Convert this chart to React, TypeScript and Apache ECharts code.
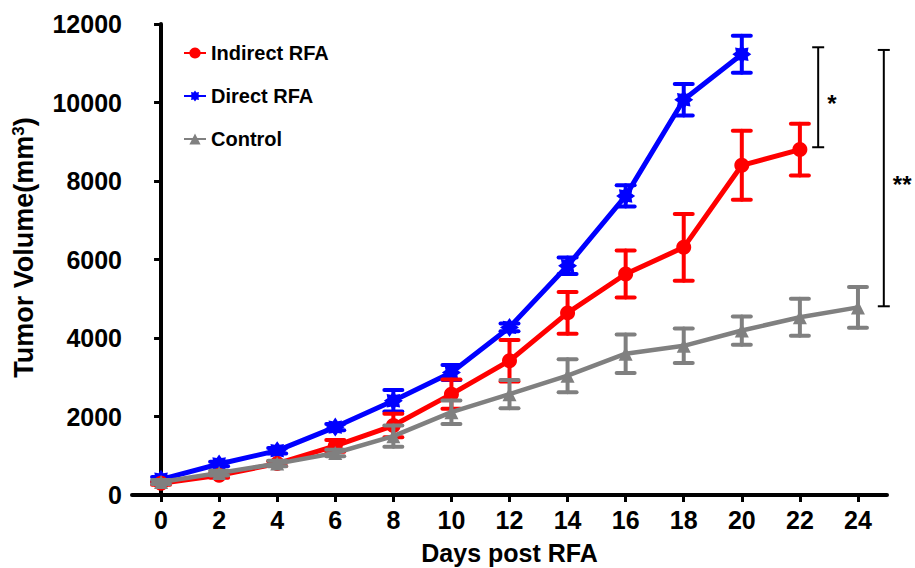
import React, { useEffect, useRef } from "react";
import * as echarts from "echarts";

const tickDays = [0, 2, 4, 6, 8, 10, 12, 14, 16, 18, 20, 22, 24];

const indirectDays = [0, 2, 4, 6, 8, 10, 12, 14, 16, 18, 20, 22];
const indirectMean = [300, 500, 800, 1250, 1770, 2570, 3420, 4640, 5630, 6310, 8400, 8800];
const indirectErr = [40, 60, 60, 150, 300, 370, 530, 530, 600, 850, 880, 660];

const directDays = [0, 2, 4, 6, 8, 10, 12, 14, 16, 18, 20];
const directMean = [400, 790, 1130, 1730, 2400, 3120, 4270, 5840, 7620, 10070, 11230];
const directErr = [60, 60, 70, 80, 275, 190, 100, 210, 270, 400, 470];

const controlDays = [0, 2, 4, 6, 8, 10, 12, 14, 16, 18, 20, 22, 24];
const controlMean = [330, 560, 800, 1070, 1500, 2110, 2570, 3040, 3600, 3800, 4190, 4530, 4780];
const controlErr = [50, 60, 70, 80, 270, 300, 360, 420, 490, 440, 360, 470, 520];

// significance brackets: [x (days), low, high], label
const bracketX = [22.63, 24.89];
const bracketLow = [8860, 4808];
const bracketHigh = [11407, 11339];
const bracketLabels = ["*", "**"];

const FONT = 'Arial, "Liberation Sans", sans-serif';

function asteriskPath(): string {
  const n = 16;
  const parts: string[] = [];
  for (let k = 0; k < n; k++) {
    const a = (k * Math.PI) / 8 - Math.PI / 2;
    const r = k % 2 === 0 ? 50 : 34;
    const x = (50 + r * Math.cos(a)).toFixed(2);
    const y = (50 + r * Math.sin(a)).toFixed(2);
    parts.push((k === 0 ? "M" : "L") + x + " " + y);
  }
  return "path://" + parts.join(" ") + " Z";
}

function errSeries(days: number[], mean: number[], err: number[], color: string, z: number) {
  return {
    type: "custom",
    z,
    silent: true,
    data: days.map((d, i) => [d, mean[i], err[i]]),
    renderItem: (params: any, api: any) => {
      const x = api.value(0);
      const m = api.value(1);
      const e = api.value(2);
      const top = api.coord([x, m + e]);
      const bot = api.coord([x, m - e]);
      const hw = 9;
      const style = { stroke: color, lineWidth: 4, lineCap: "round" };
      return {
        type: "group",
        children: [
          { type: "line", shape: { x1: top[0], y1: top[1], x2: bot[0], y2: bot[1] }, style },
          { type: "line", shape: { x1: top[0] - hw, y1: top[1], x2: top[0] + hw, y2: top[1] }, style },
          { type: "line", shape: { x1: bot[0] - hw, y1: bot[1], x2: bot[0] + hw, y2: bot[1] }, style },
        ],
      };
    },
  };
}

export default function App() {
  const ref = useRef<HTMLDivElement>(null);
  useEffect(() => {
    if (!ref.current) return;
    const chart = echarts.init(ref.current, null, { renderer: "svg" });
    const ast = asteriskPath();
    const option: any = {
      animation: false,
      backgroundColor: "#ffffff",
      textStyle: { fontFamily: FONT },
      grid: { left: 132, right: 28, top: 24, bottom: 73, containLabel: false, outerBoundsMode: "none" },
      legend: {
        left: 178,
        top: 38,
        orient: "vertical",
        itemWidth: 22,
        itemHeight: 14,
        itemGap: 23,
        data: ["Indirect RFA", "Direct RFA", "Control"],
        textStyle: { fontSize: 20, fontWeight: "bold", color: "#000", fontFamily: FONT, padding: [0, 0, 0, 0] },
      },
      xAxis: {
        type: "value",
        min: -1,
        max: 25,
        name: "Days post RFA",
        nameLocation: "middle",
        nameGap: 45,
        nameTextStyle: { fontSize: 25, fontWeight: "bold", color: "#000", fontFamily: FONT, verticalAlign: "top" },
        splitLine: { show: false },
        axisLine: { lineStyle: { color: "#000", width: 4, cap: "round" } },
        axisTick: { show: true, length: 7, lineStyle: { color: "#000", width: 3 }, customValues: tickDays },
        axisLabel: { fontSize: 25, fontWeight: "bold", color: "#000", margin: 12, customValues: tickDays, fontFamily: FONT },
      },
      yAxis: {
        type: "value",
        min: 0,
        max: 12000,
        interval: 2000,
        name: "Tumor Volume(mm{sup|3})",
        nameLocation: "middle",
        nameGap: 95,
        nameTextStyle: {
          fontSize: 27,
          fontWeight: "bold",
          color: "#000",
          fontFamily: FONT,
          padding: [0, 0, 0, 24],
          rich: {
            sup: { fontSize: 17, fontWeight: "bold", color: "#000", fontFamily: FONT, verticalAlign: "top", padding: [0, 0, 10, 0] },
          },
        },
        splitLine: { show: false },
        axisLine: { show: true, lineStyle: { color: "#000", width: 4, cap: "round" } },
        axisTick: { show: true, length: 7, lineStyle: { color: "#000", width: 3 } },
        axisLabel: {
          fontSize: 25,
          fontWeight: "bold",
          color: "#000",
          margin: 10,
          fontFamily: FONT,
          formatter: (v: number) => String(v),
        },
      },
      series: [
        errSeries(directDays, directMean, directErr, "#0000ff", 2),
        {
          name: "Direct RFA",
          type: "line",
          z: 3,
          data: directDays.map((d, i) => [d, directMean[i]]),
          symbol: ast,
          symbolSize: 19,
          itemStyle: { color: "#0000ff" },
          lineStyle: { color: "#0000ff", width: 5 },
        },
        errSeries(indirectDays, indirectMean, indirectErr, "#ff0000", 4),
        {
          name: "Indirect RFA",
          type: "line",
          z: 5,
          data: indirectDays.map((d, i) => [d, indirectMean[i]]),
          symbol: "circle",
          symbolSize: 15,
          itemStyle: { color: "#ff0000" },
          lineStyle: { color: "#ff0000", width: 5 },
        },
        errSeries(controlDays, controlMean, controlErr, "#808080", 6),
        {
          name: "Control",
          type: "line",
          z: 7,
          data: controlDays.map((d, i) => [d, controlMean[i]]),
          symbol: "triangle",
          symbolSize: 14,
          itemStyle: { color: "#808080" },
          lineStyle: { color: "#808080", width: 4.5 },
        },
        {
          type: "custom",
          z: 8,
          silent: true,
          clip: false,
          data: bracketX.map((x, i) => [x, bracketLow[i], bracketHigh[i], i]),
          renderItem: (params: any, api: any) => {
            const x = api.value(0);
            const lo = api.coord([x, api.value(1)]);
            const hi = api.coord([x, api.value(2)]);
            const idx = api.value(3);
            const hw = 6;
            const style = { stroke: "#000", lineWidth: 2 };
            return {
              type: "group",
              children: [
                { type: "line", shape: { x1: hi[0], y1: hi[1], x2: lo[0], y2: lo[1] }, style },
                { type: "line", shape: { x1: hi[0] - hw, y1: hi[1], x2: hi[0] + hw, y2: hi[1] }, style },
                { type: "line", shape: { x1: lo[0] - hw, y1: lo[1], x2: lo[0] + hw, y2: lo[1] }, style },
                {
                  type: "text",
                  x: hi[0] + 9,
                  y: (hi[1] + lo[1]) / 2 + 6,
                  style: {
                    text: bracketLabels[idx],
                    fill: "#000",
                    font: "bold 24px " + FONT,
                    verticalAlign: "middle",
                    align: "left",
                  },
                },
              ],
            };
          },
        },
      ],
    };
    chart.setOption(option);
    return () => chart.dispose();
  }, []);
  return (
    <div
      ref={ref}
      style={{ position: "absolute", left: 0, top: 0, width: 915, height: 568, background: "#fff" }}
    />
  );
}
